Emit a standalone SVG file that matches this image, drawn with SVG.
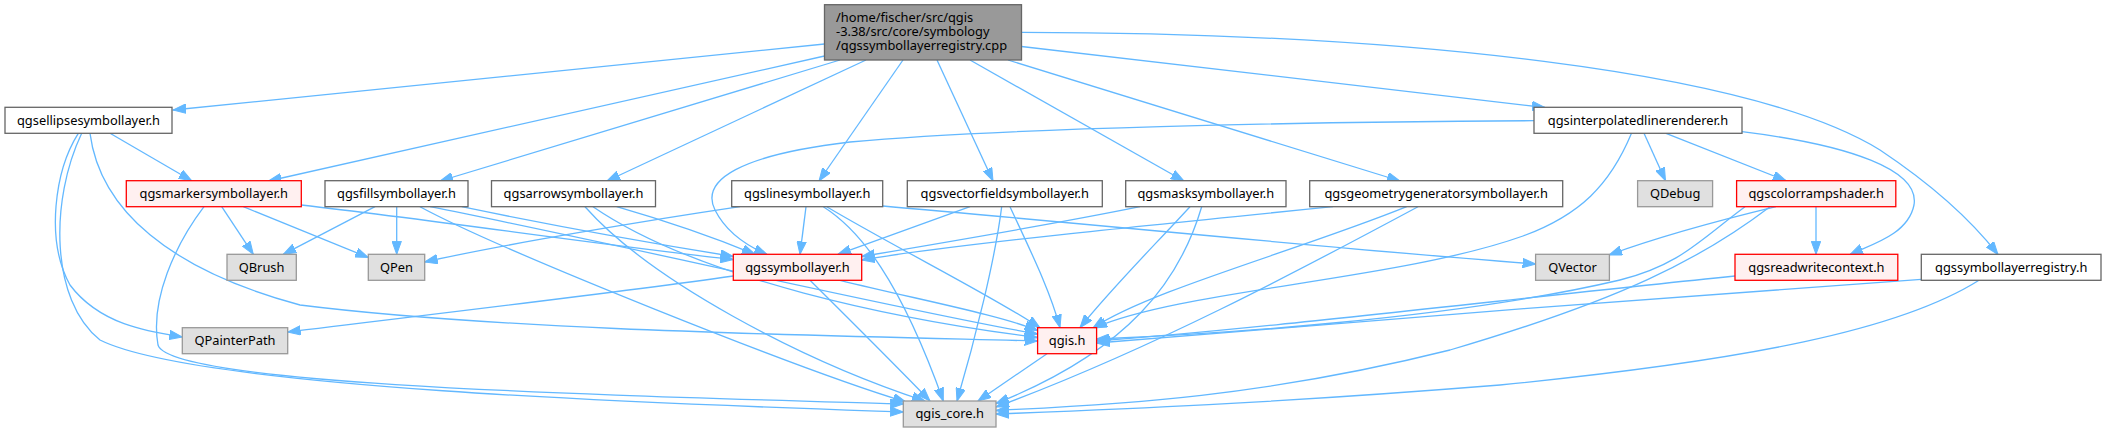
<svg xmlns="http://www.w3.org/2000/svg" width="2106" height="432" viewBox="0 0 2106 432">
<style>
text{font-family:"Noto Sans","DejaVu Sans",sans-serif;font-size:12.85px;fill:#000;text-anchor:middle}
.n rect{fill:#fff;stroke:#666;stroke-width:1.3}
.r rect{fill:#FFF0F0;stroke:#F00;stroke-width:1.3}
.g rect{fill:#E0E0E0;stroke:#999;stroke-width:1.3}
.m rect{fill:#999;stroke:#666;stroke-width:1.3}
#edges path{fill:none;stroke:#63B8FF;stroke-width:1.3;marker-end:url(#a)}
</style>
<defs>
<marker id="a" markerUnits="userSpaceOnUse" markerWidth="14" markerHeight="10" refX="13" refY="5" orient="auto" viewBox="0 0 14 10"><path d="M0,0.3 L13,5 L0,9.7 z" fill="#63B8FF" stroke="#63B8FF" stroke-width="1"/></marker>
</defs>
<rect width="2106" height="432" fill="#fff"/>
<g id="edges">
<path d="M824.5,44 L173,110"/>
<path d="M824.5,56 L268.5,181"/>
<path d="M840,60 L440,181"/>
<path d="M866,60 L607,181"/>
<path d="M903,60 L819,181"/>
<path d="M937,60 L993,181"/>
<path d="M970,60 L1184,181"/>
<path d="M1008,60 L1400,181"/>
<path d="M1021.5,46.5 L1545,107.5"/>
<path d="M1021.5,32.3 C1400,33 1750,70 1880,150 C1940,190 1975,225 1998,254.5"/>
<path d="M1644,133.3 L1665.5,180.7"/>
<path d="M1666,133.3 L1786,180.7"/>
<path d="M1742,131.7 C1850,145 1920,170 1914,205 C1908,235 1870,245 1850,254.5"/>
<path d="M1631.5,133.3 C1610,185 1580,215 1523,236 C1400,280 1180,290 1094,328"/>
<path d="M1534,120.7 C1300,122 1000,128 850,142 C740,155 700,180 715,210 C725,230 745,245 767,254.5"/>
<path d="M110,133.3 L191.7,180.7"/>
<path d="M78.3,133.3 C55,170 45,240 70,285 C100,325 150,332 182.3,337"/>
<path d="M81.7,133.3 C50,200 50,300 100,340 C200,390 700,405 903.3,412"/>
<path d="M90,133.3 C100,210 170,270 300,305 C500,330 800,335 1037.6,341"/>
<path d="M221.7,206.7 L253.3,254.3"/>
<path d="M243.3,206.7 L368.3,257.5"/>
<path d="M301.3,205 C450,222 600,245 733.3,259.5"/>
<path d="M204,206.7 C175,245 150,300 158,345 C170,385 600,395 903.3,404"/>
<path d="M375,206.7 L283.3,254.3"/>
<path d="M396.7,206.7 L396.7,254.3"/>
<path d="M461.7,206.7 C550,225 650,243 733.3,256.5"/>
<path d="M430,206.7 C600,240 900,310 1037.6,334"/>
<path d="M420,206.7 C500,250 800,370 906,402"/>
<path d="M616.7,206.7 C680,225 720,240 755,254.3"/>
<path d="M593,206.7 C700,280 900,320 1037.6,337.5"/>
<path d="M585,206.7 C650,280 800,360 925,401"/>
<path d="M806,206.7 L800,254.3"/>
<path d="M740,206.7 C650,220 500,245 424.7,262"/>
<path d="M882.7,206 C1100,225 1350,250 1535.6,264"/>
<path d="M826.7,206.7 C900,250 1000,300 1040,328"/>
<path d="M823.3,206.7 C860,230 900,280 943.3,401"/>
<path d="M970,206.7 L838,254.3"/>
<path d="M1010,206.7 C1030,250 1050,290 1060,327.7"/>
<path d="M1001.7,206.7 C995,260 975,340 957,401"/>
<path d="M1140,206.7 C1050,225 930,245 861.7,256.5"/>
<path d="M1190,206.7 C1150,250 1110,290 1080,327.7"/>
<path d="M1201.7,206.7 C1180,280 1130,350 996,403.5"/>
<path d="M1333,206.7 C1150,225 950,245 861.7,260"/>
<path d="M1406.7,206.7 C1300,250 1150,290 1093,328"/>
<path d="M1418,206.7 C1300,270 1150,350 996,407"/>
<path d="M1776,206.7 C1700,225 1650,240 1609,255"/>
<path d="M1816,206.7 L1816,254.3"/>
<path d="M1745,206.7 C1700,240 1680,265 1620,280 C1450,320 1200,335 1096.6,339"/>
<path d="M1770,206.7 C1700,260 1620,300 1450,350 C1250,400 1100,405 996,410.5"/>
<path d="M1735,276 C1500,300 1250,330 1096.6,341"/>
<path d="M1921.3,279.3 C1700,295 1300,325 1096.6,343"/>
<path d="M1979,280.3 C1900,330 1750,360 1500,385 C1250,405 1100,410 996,414"/>
<path d="M733.3,276 C600,295 400,318 287.7,332"/>
<path d="M840,280.3 C920,300 1000,315 1037.6,330.5"/>
<path d="M810,280.3 C850,320 900,370 930,401"/>
<path d="M1047,353.7 L978,401"/>
</g>
<g id="cpp" class="m"><rect x="824.5" y="4.7" width="197" height="55.3"/><text x="836" y="21.7" style="text-anchor:start">/home/fischer/src/qgis</text><text x="836" y="36" style="text-anchor:start">-3.38/src/core/symbology</text><text x="836" y="50.3" style="text-anchor:start">/qgssymbollayerregistry.cpp</text></g>
<g id="ellipse" class="n"><rect x="5" y="107.3" width="167" height="26"/><text x="88.5" y="124.5">qgsellipsesymbollayer.h</text></g>
<g id="interp" class="n"><rect x="1534" y="107.3" width="208" height="26"/><text x="1638" y="124.5">qgsinterpolatedlinerenderer.h</text></g>
<g id="marker" class="r"><rect x="126.3" y="180.7" width="175" height="26"/><text x="213.8" y="197.9">qgsmarkersymbollayer.h</text></g>
<g id="fill" class="n"><rect x="325" y="180.7" width="143" height="26"/><text x="396.5" y="197.9">qgsfillsymbollayer.h</text></g>
<g id="arrow" class="n"><rect x="491.5" y="180.7" width="164" height="26"/><text x="573.5" y="197.9">qgsarrowsymbollayer.h</text></g>
<g id="line" class="n"><rect x="731.7" y="180.7" width="151" height="26"/><text x="807.2" y="197.9">qgslinesymbollayer.h</text></g>
<g id="vectorfield" class="n"><rect x="907.3" y="180.7" width="195" height="26"/><text x="1004.8" y="197.9">qgsvectorfieldsymbollayer.h</text></g>
<g id="mask" class="n"><rect x="1125.7" y="180.7" width="160.3" height="26"/><text x="1205.8" y="197.9">qgsmasksymbollayer.h</text></g>
<g id="geomgen" class="n"><rect x="1309.7" y="180.7" width="253" height="26"/><text x="1436.2" y="197.9">qgsgeometrygeneratorsymbollayer.h</text></g>
<g id="qdebug" class="g"><rect x="1637.6" y="180.7" width="75" height="26"/><text x="1675.1" y="197.9">QDebug</text></g>
<g id="colorramp" class="r"><rect x="1736.6" y="180.7" width="159.2" height="26"/><text x="1816.2" y="197.9">qgscolorrampshader.h</text></g>
<g id="qbrush" class="g"><rect x="227" y="254.3" width="69.3" height="26"/><text x="261.6" y="271.5">QBrush</text></g>
<g id="qpen" class="g"><rect x="368.3" y="254.3" width="56.4" height="26"/><text x="396.5" y="271.5">QPen</text></g>
<g id="symbollayer" class="r"><rect x="733.3" y="254.3" width="128.4" height="26"/><text x="797.5" y="271.5">qgssymbollayer.h</text></g>
<g id="qvector" class="g"><rect x="1535.6" y="254.3" width="73.8" height="26"/><text x="1572.5" y="271.5">QVector</text></g>
<g id="readwrite" class="r"><rect x="1735" y="254.3" width="162.8" height="26"/><text x="1816.4" y="271.5">qgsreadwritecontext.h</text></g>
<g id="registry" class="n"><rect x="1921.3" y="254.3" width="179.7" height="26"/><text x="2011.2" y="271.5">qgssymbollayerregistry.h</text></g>
<g id="qpainterpath" class="g"><rect x="182.3" y="327.7" width="105.4" height="26"/><text x="235" y="344.9">QPainterPath</text></g>
<g id="qgis" class="r"><rect x="1037.6" y="327.7" width="59" height="26"/><text x="1067.1" y="344.9">qgis.h</text></g>
<g id="qgiscore" class="g"><rect x="903.3" y="401" width="92.7" height="26"/><text x="949.7" y="418.2">qgis_core.h</text></g>
</svg>
